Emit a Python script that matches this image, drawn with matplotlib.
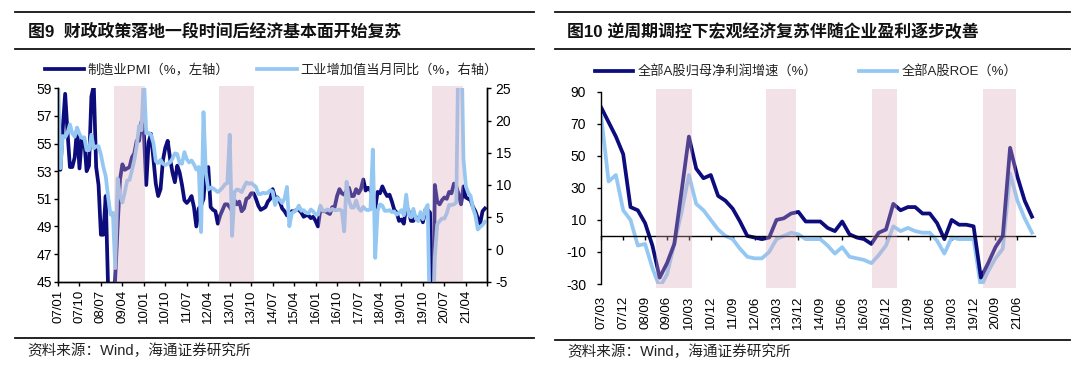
import numpy as np
import matplotlib
matplotlib.use("Agg")
import matplotlib.pyplot as plt
from matplotlib.lines import Line2D

plt.rcParams['font.family'] = ['Liberation Sans', 'Noto Sans CJK SC']
plt.rcParams['axes.unicode_minus'] = False

# ---------------- data: left panel (monthly, 2007/01 - 2021/12) ----------------
pmi = [
    55.1, 53.1, 56.1, 58.6, 55.8, 53.3, 53.3, 54.0, 56.1, 53.2, 55.4, 55.3,
    53.0, 53.4, 58.4, 59.2, 53.3, 52.0, 48.4, 48.4, 51.2, 44.6, 38.8, 41.2,
    45.3, 49.0, 52.4, 53.5, 53.1, 53.2, 53.3, 54.0, 54.3, 55.2, 55.2, 56.6,
    55.8, 52.0, 55.1, 55.7, 53.9, 52.1, 51.2, 51.7, 53.8, 54.7, 55.2, 53.9,
    52.9, 52.2, 53.4, 52.9, 52.0, 50.9, 50.7, 50.9, 51.2, 50.4, 49.0, 50.3,
    50.5, 51.0, 53.1, 53.3, 50.4, 50.2, 50.1, 49.2, 49.8, 50.2, 50.6, 50.6,
    50.4, 50.1, 50.9, 50.6, 50.8, 50.1, 50.3, 51.0, 51.1, 51.4, 51.4, 51.0,
    50.5, 50.2, 50.3, 50.4, 50.8, 51.0, 51.7, 51.1, 51.1, 50.8, 50.3, 50.1,
    49.8, 49.9, 50.1, 50.1, 50.2, 50.2, 50.0, 49.7, 49.8, 49.8, 49.6, 49.7,
    49.4, 49.0, 50.2, 50.1, 50.1, 50.0, 49.9, 50.4, 50.4, 51.2, 51.7, 51.4,
    51.3, 51.6, 51.8, 51.2, 51.2, 51.7, 51.4, 51.7, 52.4, 51.6, 51.8, 51.6,
    51.3, 50.3, 51.5, 51.4, 51.9, 51.5, 51.2, 51.3, 50.8, 50.2, 50.0, 49.4,
    49.5, 49.2, 50.5, 50.1, 49.4, 49.4, 49.7, 49.5, 49.8, 49.3, 50.2, 50.2,
    50.0, 35.7, 52.0, 50.8, 50.6, 50.9, 51.1, 51.0, 51.5, 51.4, 52.1, 51.9,
    51.3, 50.6, 51.9, 51.1, 51.0, 50.9, 50.4, 50.1, 49.6, 49.2, 50.1, 50.3,
]
iva = [
    27.0, 12.6, 17.6, 17.4, 18.1, 19.4, 18.0, 17.5, 18.9, 17.9, 17.3, 17.4,
    15.4, 15.4, 17.8, 15.7, 16.0, 16.0, 14.7, 12.8, 11.4, 8.2, 5.4, 5.7,
    -2.9, 11.0, 8.3, 7.3, 8.9, 10.7, 10.8, 12.3, 13.9, 16.1, 19.2, 18.5,
    27.0, 18.0, 18.1, 17.8, 16.5, 13.7, 13.4, 13.9, 13.3, 13.1, 13.3, 13.5,
    14.1, 14.9, 14.8, 13.4, 13.3, 15.1, 14.0, 13.5, 13.8, 13.2, 12.4, 12.8,
    2.7, 21.3, 11.9, 9.3, 9.6, 9.5, 9.2, 8.9, 9.2, 9.6, 10.1, 10.3,
    17.8, 2.1, 8.9, 9.3, 9.2, 8.9, 9.7, 10.4, 10.2, 10.3, 10.0, 9.7,
    8.6, 8.6, 8.8, 8.7, 8.8, 9.2, 9.0, 6.9, 8.0, 7.7, 7.2, 7.9,
    9.7, 3.6, 5.6, 5.9, 6.1, 6.8, 6.0, 6.1, 5.7, 5.6, 6.2, 5.9,
    5.4, 5.4, 6.8, 6.0, 6.0, 6.2, 6.0, 6.3, 6.1, 6.1, 6.2, 6.0,
    2.8, 10.5, 7.6, 6.5, 6.5, 7.6, 6.4, 6.0, 6.6, 6.2, 6.1, 6.2,
    15.5, -1.3, 6.0, 7.0, 6.8, 6.0, 6.0, 6.1, 5.8, 5.9, 5.4, 5.7,
    6.1, 5.3, 8.5, 5.4, 5.0, 6.3, 4.8, 4.4, 5.8, 4.7, 6.2, 6.9,
    -13.5, -13.5, -1.1, 3.9, 4.4, 4.8, 4.8, 5.6, 6.9, 6.9, 7.0, 7.3,
    35.1, 35.1, 14.1, 9.8, 8.8, 8.3, 6.4, 5.3, 3.1, 3.5, 3.8, 4.3,
]
month_labels = ['07/01', '07/10', '08/07', '09/04', '10/01', '10/10', '11/07',
                '12/04', '13/01', '13/10', '14/07', '15/04', '16/01', '16/10',
                '17/07', '18/04', '19/01', '19/10', '20/07', '21/04']
# shaded periods, in months since 2007/01
left_spans = [(23.3, 36.3), (67.4, 82.1), (109.4, 128.3), (157.0, 169.8)]

# ---------------- data: right panel (quarterly, 2007/03 - 2021/12) ----------------
profit = [80, 71, 62, 51, 18, 16, 8, -6, -26, -17,
          -5, 28, 62, 42, 36, 38, 25, 22, 17, 9,
          0, -1, -2, -1, 10, 11, 14, 15, 9, 9,
          9, 5, 3, 9, 1, -1, -2, -5, 2, 4,
          20, 16, 18, 18, 14, 14, 8, -2, 10, 7,
          7, 6, -26, -17, -7, 0, 55, 37, 22, 12]
roe = [74, 34, 38, 16, 10, -6, -5, -20, -32, -24,
       -5, 15, 38, 20, 16, 10, 4, 0, -2, -8,
       -13, -14, -14, -10, -2, 0, 2, 1, -2, -2,
       -2, -6, -11, -7, -13, -14, -15, -17, -12, -6,
       6, 3, 5, 3, 2, 2, -3, -11, -1, -2,
       -2, -2, -32, -22, -14, -8, 39, 22, 11, 2]
quarter_labels = ['07/03', '07/12', '08/09', '09/06', '10/03', '10/12', '11/09',
                  '12/06', '13/03', '13/12', '14/09', '15/06', '16/03', '16/12',
                  '17/09', '18/06', '19/03', '19/12', '20/09', '21/06']
right_spans = [(7.5, 12.4), (22.5, 26.7), (37.1, 40.5), (52.3, 56.8)]

NAVY = '#0c0c7c'
SKY = '#95c7f3'
SHADE = '#d9aabb'
SHADE_ALPHA = 0.34
W, H = 1080, 372


def fx(px):
    return px / W


def fy(py):
    return 1 - py / H


fig = plt.figure(figsize=(W / 100, H / 100), dpi=100)

# ---------------- left panel ----------------
months = np.arange(len(pmi))
ax = fig.add_axes([fx(58), fy(281.7), (487.3 - 58) / W, (281.7 - 88.3) / H])
ax2 = ax.twinx()
l1, = ax.plot(months, pmi, color=NAVY, lw=2.7, solid_joinstyle='round',
              label='制造业PMI（%，左轴）')
l2, = ax2.plot(months, iva, color=SKY, lw=2.7, solid_joinstyle='round',
               label='工业增加值当月同比（%，右轴）')
for a, b in left_spans:
    ax2.axvspan(a, b, ymin=0, ymax=1.012, color=SHADE, alpha=SHADE_ALPHA, lw=0,
                zorder=5, clip_on=False)
ax.set_xlim(0, 180)
ax.set_ylim(45, 59)
ax2.set_ylim(-5, 25)
ax.set_yticks(np.arange(45, 60, 2))
ax2.set_yticks(np.arange(-5, 26, 5))
ax.set_xticks(np.arange(0, 181, 9))
ax.set_xticklabels(month_labels + [''])
for a in (ax, ax2):
    a.spines['top'].set_visible(False)
    for s in a.spines.values():
        s.set_linewidth(1.0)
ax.tick_params(axis='y', direction='out', length=3, width=1, labelsize=10, pad=1.5)
ax2.tick_params(axis='y', direction='out', length=3, width=1, labelsize=10, pad=3)
ax.tick_params(axis='x', direction='out', length=3, width=1, labelsize=9.5,
               labelrotation=90, pad=3)

fig.legend(handles=[l1, l2], loc='center left', bbox_to_anchor=(fx(44.8), fy(70.5)),
           ncol=2, frameon=False, fontsize=9.5, handlelength=3.0, handletextpad=0.26,
           columnspacing=2.1, borderpad=0, borderaxespad=0, labelcolor='#222222')

# ---------------- right panel ----------------
qs = np.arange(len(profit))
bx = fig.add_axes([fx(601.3), fy(284), 433.6 / W, 192.3 / H])
r2, = bx.plot(qs, roe, color=SKY, lw=2.7, solid_joinstyle='round',
              label='全部A股ROE（%）')
r1, = bx.plot(qs, profit, color=NAVY, lw=2.7, solid_joinstyle='round',
              label='全部A股归母净利润增速（%）')
for a, b in right_spans:
    bx.axvspan(a, b, ymin=-0.022, ymax=1.014, color=SHADE, alpha=SHADE_ALPHA, lw=0,
               zorder=5, clip_on=False)
bx.set_xlim(0, 59.4)
bx.set_ylim(-30, 90)
bx.set_yticks(np.arange(-30, 91, 20))
bx.set_xticks(np.arange(0, 58, 3))
bx.set_xticklabels(quarter_labels)
bx.spines['top'].set_visible(False)
bx.spines['right'].set_visible(False)
bx.spines['bottom'].set_position(('data', 0))
for s in bx.spines.values():
    s.set_linewidth(1.0)
bx.tick_params(axis='y', direction='out', length=3, width=1, labelsize=10, pad=8)
bx.tick_params(axis='x', direction='out', length=3, width=1, labelsize=9.5,
               labelrotation=90, pad=40)

fig.legend(handles=[r1, r2], loc='center left', bbox_to_anchor=(fx(595), fy(72.2)),
           ncol=2, frameon=False, fontsize=9.5, handlelength=2.9, handletextpad=0.35,
           columnspacing=3.1, borderpad=0, borderaxespad=0, labelcolor='#222222')

# ---------------- title bars and sources ----------------
for x0, x1, yb in [(14.5, 533.7, 338.4), (554.5, 1070, 340.2)]:
    for yy in (12, 48.6, yb):
        fig.add_artist(Line2D([fx(x0), fx(x1)], [fy(yy), fy(yy)], color='#111111', lw=1.3))

fig.text(fx(27.5), fy(31.5), '图9  财政政策落地一段时间后经济基本面开始复苏',
         fontsize=12.2, fontweight='bold', va='center', color='#111111')
fig.text(fx(567.5), fy(31.5), '图10 逆周期调控下宏观经济复苏伴随企业盈利逐步改善',
         fontsize=12.2, fontweight='bold', va='center', color='#111111')
fig.text(fx(27.5), fy(350.5), '资料来源：Wind，海通证券研究所', fontsize=10.5,
         va='center', color='#222222')
fig.text(fx(567.5), fy(351.5), '资料来源：Wind，海通证券研究所', fontsize=10.5,
         va='center', color='#222222')

fig.savefig('out.png', dpi=100, facecolor='white')
